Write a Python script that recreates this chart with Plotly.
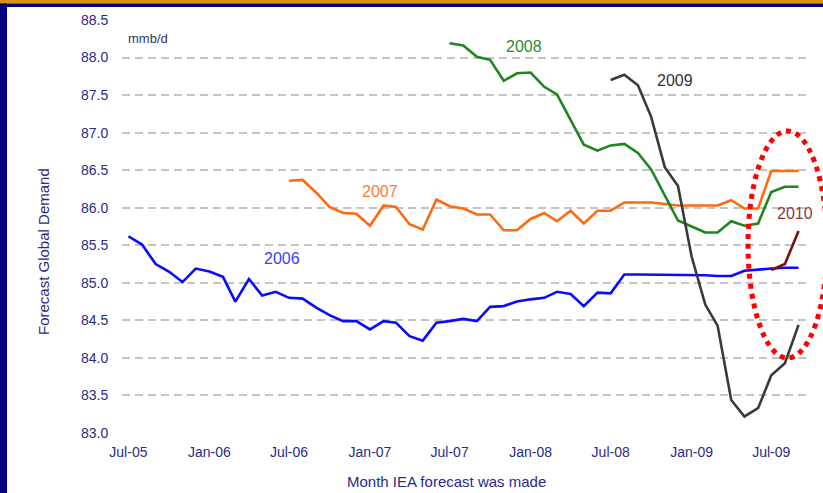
import pandas as pd
import plotly.graph_objects as go

# ---- data (monthly IEA forecasts of global oil demand, mb/d) ----
months = pd.date_range("2005-07-01", "2009-09-01", freq="MS")  # Jul-05 .. Sep-09

demand_2006 = [85.62, 85.51, 85.25, 85.15, 85.01, 85.19, 85.15, 85.08, 84.75, 85.05,
               84.83, 84.88, 84.80, 84.79, 84.67, 84.57, 84.49, 84.49, 84.38, 84.49,
               84.47, 84.29, 84.23, 84.47, 84.49, 84.52, 84.49, 84.68, 84.69, 84.75,
               84.78, 84.80, 84.88, 84.85, 84.69, 84.87, 84.86, 85.11, 85.11, 85.11,
               85.11, 85.11, 85.11, 85.10, 85.09, 85.09, 85.16, 85.18, 85.19, 85.20,
               85.20]
demand_2007 = [86.36, 86.37, 86.20, 86.01, 85.93, 85.92, 85.76, 86.03, 86.01, 85.78,
               85.71, 86.11, 86.02, 85.99, 85.91, 85.91, 85.70, 85.70, 85.85, 85.93,
               85.82, 85.96, 85.79, 85.96, 85.96, 86.07, 86.07, 86.07, 86.05, 86.03,
               86.03, 86.03, 86.03, 86.10, 85.99, 85.99, 86.49, 86.49, 86.49]
demand_2008 = [88.19, 88.16, 88.01, 87.97, 87.69, 87.79, 87.80, 87.61, 87.51, 87.17,
               86.84, 86.76, 86.83, 86.85, 86.73, 86.51, 86.17, 85.83, 85.75, 85.67,
               85.67, 85.82, 85.76, 85.79, 86.21, 86.28, 86.28]
demand_2009 = [87.70, 87.77, 87.63, 87.21, 86.54, 86.29, 85.35, 84.71, 84.43, 83.44,
               83.22, 83.33, 83.77, 83.93, 84.44]
demand_2010 = [85.17, 85.25, 85.69]

series_names = ["2006", "2007", "2008", "2009", "2010"]
series_values = [demand_2006, demand_2007, demand_2008, demand_2009, demand_2010]
line_colors = ["#0a0aff", "#ff6a10", "#1f861f", "#3a3a3a", "#7a1010"]
label_colors = ["#4040ff", "#ff7a33", "#2e8b2e", "#333333", "#8b3a3a"]

y_ticks = [83.0, 83.5, 84.0, 84.5, 85.0, 85.5, 86.0, 86.5, 87.0, 87.5, 88.0, 88.5]

fig = go.Figure()
for name, vals, col in zip(series_names, series_values, line_colors):
    x = months[len(months) - len(vals):]
    fig.add_trace(go.Scatter(x=x, y=vals, mode="lines", name=name,
                             line=dict(color=col, width=2.6), showlegend=False,
                             hoverinfo="skip"))

# series labels (positioned near each curve)
label_pos = {
    "2006": ("2006-06-15", 85.32),
    "2007": ("2007-01-24", 86.22),
    "2008": ("2007-12-16", 88.15),
    "2009": ("2008-11-25", 87.70),
    "2010": ("2009-08-25", 85.92),
}
for name, col in zip(series_names, label_colors):
    lx, ly = label_pos[name]
    fig.add_annotation(x=lx, y=ly, text=name, showarrow=False,
                       xanchor="center", yanchor="middle",
                       font=dict(size=16, color=col, family="Liberation Sans, Arial"))

W, H = 823, 493
L, R, T, B = 122, 13, 20, 60
pw, ph = W - L - R, H - T - B


def px(xp):
    return (xp - L) / pw


def py(yp):
    return (H - B - yp) / ph


navy = "#2b2b85"
# units and axis titles
fig.add_annotation(xref="paper", yref="paper", x=px(148), y=py(38), text="mmb/d",
                   xanchor="center", yanchor="middle",
                   showarrow=False, font=dict(size=13, color="#333366"))
fig.add_annotation(xref="paper", yref="paper", x=px(446), y=py(482),
                   text="Month IEA forecast was made", showarrow=False,
                   xanchor="center", yanchor="middle",
                   font=dict(size=15, color=navy))
fig.add_annotation(xref="paper", yref="paper", x=px(43), y=py(252),
                   text="Forecast Global Demand", textangle=-90, showarrow=False,
                   xanchor="center", yanchor="middle",
                   font=dict(size=15, color=navy))

# frame decorations
fig.add_shape(type="rect", xref="paper", yref="paper", x0=px(0), x1=px(W), y0=py(3.5), y1=py(0),
              fillcolor="#dc9418", line_width=0, layer="above")
fig.add_shape(type="rect", xref="paper", yref="paper", x0=px(0), x1=px(W), y0=py(7), y1=py(3.5),
              fillcolor="#000080", line_width=0, layer="above")
fig.add_shape(type="rect", xref="paper", yref="paper", x0=px(0), x1=px(7), y0=py(H), y1=py(3.5),
              fillcolor="#000080", line_width=0, layer="above")

# red dotted ellipse highlight
fig.add_shape(type="circle", xref="paper", yref="paper", x0=px(748), x1=px(827),
              y0=py(358), y1=py(131), line=dict(color="#ff0000", width=5, dash="dot"),
              layer="above")

x_start = pd.Timestamp("2005-07-01") - pd.Timedelta(days=14.5)
x_end = pd.Timestamp("2009-09-01") + pd.Timedelta(days=26)

fig.update_layout(
    width=W, height=H,
    margin=dict(l=L, r=R, t=T, b=B, pad=0),
    paper_bgcolor="white", plot_bgcolor="white",
    font=dict(family="Liberation Sans, Arial, sans-serif", color=navy),
    xaxis=dict(type="date", range=[x_start, x_end], tick0="2005-07-01", dtick="M6",
               tickformat="%b-%y", showgrid=False, zeroline=False, showline=False,
               ticks="outside", ticklen=6, tickcolor="rgba(0,0,0,0)",
               tickfont=dict(size=14, color=navy)),
    yaxis=dict(range=[83.0, 88.5], tickvals=y_ticks, tickformat=".1f",
               showgrid=True, gridcolor="#c4c4c4", gridwidth=1.5, griddash="8px,5px",
               zeroline=False, showline=False,
               ticks="outside", ticklen=10, tickcolor="rgba(0,0,0,0)",
               tickfont=dict(size=14, color=navy)),
)

fig.write_html(
    "out.html",
    config={"displayModeBar": False},
    post_script="document.body.style.margin='0';document.body.style.padding='0';"
                "document.body.style.overflow='hidden';",
)
